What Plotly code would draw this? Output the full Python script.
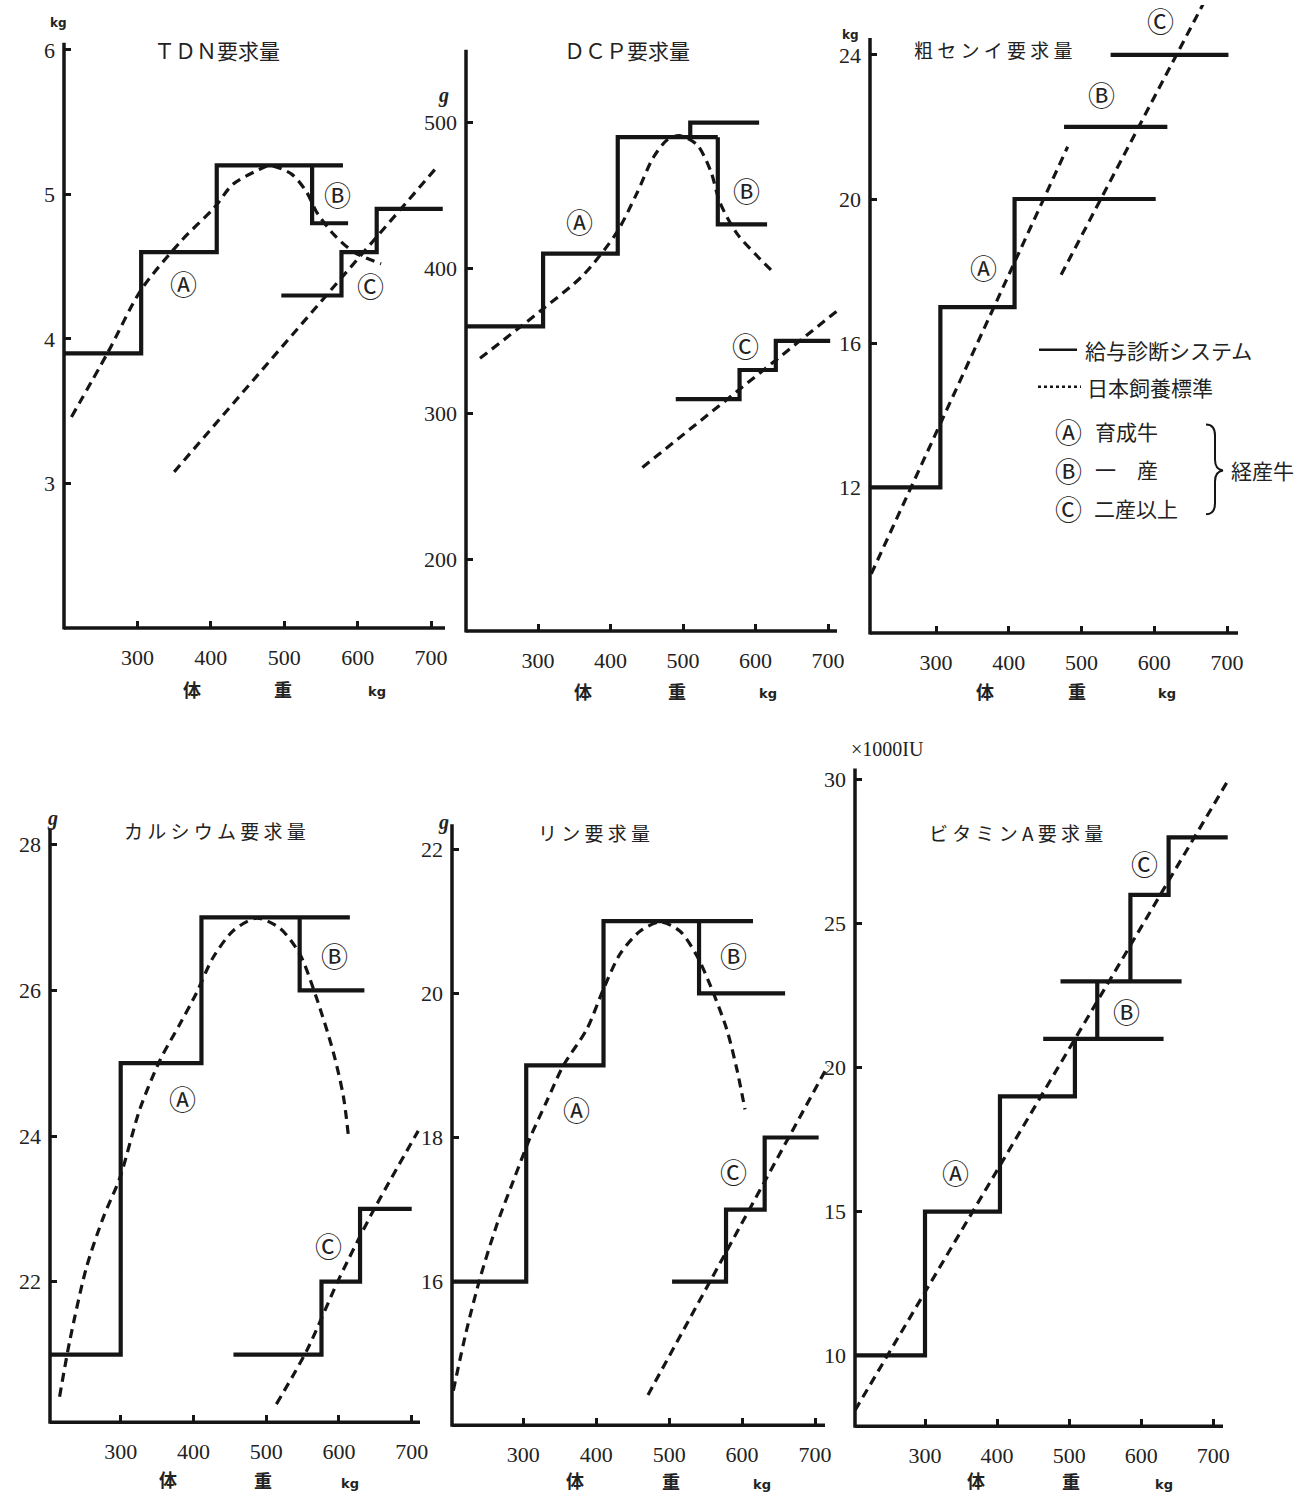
import plotly.graph_objects as go

W, H = 1310, 1496

# ---------------- data ----------------
weight_ticks = [300, 400, 500, 600, 700]

# TDN (kg)
tdn_yticks = [3, 4, 5, 6]
tdn_A_x = [200, 305, 408, 580]
tdn_A_y = [3.9, 4.6, 5.2, 5.2]
tdn_B_x = [538, 538, 587]
tdn_B_y = [5.2, 4.8, 4.8]
tdn_C_x = [496, 578, 626, 716]
tdn_C_y = [4.3, 4.6, 4.9, 4.9]
tdn_stdAB_x = [210, 260, 305, 360, 405, 430, 465, 480, 510, 530, 545, 568, 595, 632]
tdn_stdAB_y = [3.46, 3.91, 4.34, 4.68, 4.91, 5.07, 5.17, 5.2, 5.14, 5.02, 4.87, 4.72, 4.6, 4.52]
tdn_stdC_x = [350, 710]
tdn_stdC_y = [3.08, 5.2]

# DCP (g)
dcp_yticks = [200, 300, 400, 500]
dcp_A_x = [200, 307, 410, 548]
dcp_A_y = [360, 410, 490, 490]
dcp_B1_x = [510, 510, 605]
dcp_B1_y = [490, 500, 500]
dcp_B2_x = [548, 548, 616]
dcp_B2_y = [490, 430, 430]
dcp_C_x = [490, 578, 628, 703]
dcp_C_y = [310, 330, 350, 350]
dcp_stdAB_x = [220, 307, 362, 408, 436, 459, 478, 495, 519, 538, 551, 574, 602, 627]
dcp_stdAB_y = [338, 372, 395, 424, 451, 476, 488, 491, 485, 467, 445, 424, 408.5, 396]
dcp_stdC_x = [444, 716]
dcp_stdC_y = [263, 372]

# 粗センイ (kg)
fib_yticks = [12, 16, 20, 24]
fib_A_x = [205, 306, 408, 602]
fib_A_y = [12, 17, 20, 20]
fib_B_x = [476, 618]
fib_B_y = [22, 22]
fib_C_x = [540, 702]
fib_C_y = [24, 24]
fib_stdA_x = [211, 481]
fib_stdA_y = [9.6, 21.45]
fib_stdC_x = [472, 667]
fib_stdC_y = [17.9, 25.4]

# カルシウム (g)
ca_yticks = [22, 24, 26, 28]
ca_A_x = [200, 300, 411, 615]
ca_A_y = [21, 25, 27, 27]
ca_B_x = [546, 546, 635]
ca_B_y = [27, 26, 26]
ca_C_x = [455, 576, 629, 700]
ca_C_y = [21, 22, 23, 23]
ca_stdAB_x = [216, 230, 253, 276, 299, 326, 354, 381, 404, 427, 455, 487, 519, 546, 569, 592, 606, 613]
ca_stdAB_y = [20.42, 21.19, 22.2, 22.88, 23.43, 24.36, 25.04, 25.53, 25.96, 26.45, 26.82, 26.99,
              26.85, 26.5, 25.9, 25.16, 24.55, 24.0]
ca_stdC_x = [514, 556, 601, 647, 709]
ca_stdC_y = [20.32, 21.06, 22.06, 22.97, 24.07]

# リン (g)
p_yticks = [16, 18, 20, 22]
p_A_x = [200, 304, 410, 615]
p_A_y = [16, 19, 21, 21]
p_B_x = [541, 541, 659]
p_B_y = [21, 20, 20]
p_C_x = [504, 578, 631, 705]
p_C_y = [16, 17, 18, 18]
p_stdAB_x = [204, 222, 241, 264, 286, 309, 332, 355, 387, 410, 433, 460, 488, 515, 538, 556, 579, 593, 604]
p_stdAB_y = [14.49, 15.32, 16.06, 16.8, 17.39, 17.99, 18.5, 19.0, 19.5, 20.06, 20.55, 20.86, 20.99,
             20.86, 20.52, 20.12, 19.5, 18.94, 18.39]
p_stdC_x = [471, 718]
p_stdC_y = [14.43, 19.0]

# ビタミンA (x1000 IU)
va_yticks = [10, 15, 20, 25, 30]
va_A_x = [200, 300, 404, 508, 508]
va_A_y = [10, 15, 19, 21, 21]
va_B1_x = [464, 631]
va_B1_y = [21, 21]
va_B2_x = [539, 539]
va_B2_y = [21, 23]
va_B3_x = [488, 656]
va_B3_y = [23, 23]
va_C_x = [585, 585, 638, 720]
va_C_y = [23, 26, 28, 28]
va_std_x = [203, 721]
va_std_y = [8.1, 30.0]

panel_titles = ["ＴＤＮ要求量", "ＤＣＰ要求量", "粗 セ ン イ 要 求 量",
                "カ ル シ ウ ム 要 求 量", "リ ン 要 求 量", "ビ タ ミ ン A 要 求 量"]
panel_units = ["kg", "g", "kg", "g", "g", "×1000IU"]

panels = [
    dict(yticks=tdn_yticks,
         solid=[(tdn_A_x, tdn_A_y), (tdn_B_x, tdn_B_y), (tdn_C_x, tdn_C_y)],
         dashed=[(tdn_stdAB_x, tdn_stdAB_y), (tdn_stdC_x, tdn_stdC_y)],
         labels=[("Ⓐ", 363, 4.38), ("Ⓑ", 572, 5.0), ("Ⓒ", 618, 4.37)]),
    dict(yticks=dcp_yticks,
         solid=[(dcp_A_x, dcp_A_y), (dcp_B1_x, dcp_B1_y), (dcp_B2_x, dcp_B2_y), (dcp_C_x, dcp_C_y)],
         dashed=[(dcp_stdAB_x, dcp_stdAB_y), (dcp_stdC_x, dcp_stdC_y)],
         labels=[("Ⓐ", 357, 432), ("Ⓑ", 587, 453), ("Ⓒ", 586, 347)]),
    dict(yticks=fib_yticks,
         solid=[(fib_A_x, fib_A_y), (fib_B_x, fib_B_y), (fib_C_x, fib_C_y)],
         dashed=[(fib_stdA_x, fib_stdA_y), (fib_stdC_x, fib_stdC_y)],
         labels=[("Ⓐ", 365, 18.1), ("Ⓑ", 527, 22.9), ("Ⓒ", 608, 24.95)]),
    dict(yticks=ca_yticks,
         solid=[(ca_A_x, ca_A_y), (ca_B_x, ca_B_y), (ca_C_x, ca_C_y)],
         dashed=[(ca_stdAB_x, ca_stdAB_y), (ca_stdC_x, ca_stdC_y)],
         labels=[("Ⓐ", 385, 24.52), ("Ⓑ", 594, 26.48), ("Ⓒ", 585, 22.5)]),
    dict(yticks=p_yticks,
         solid=[(p_A_x, p_A_y), (p_B_x, p_B_y), (p_C_x, p_C_y)],
         dashed=[(p_stdAB_x, p_stdAB_y), (p_stdC_x, p_stdC_y)],
         labels=[("Ⓐ", 373, 18.39), ("Ⓑ", 588, 20.52), ("Ⓒ", 588, 17.53)]),
    dict(yticks=va_yticks,
         solid=[(va_A_x, va_A_y), (va_B1_x, va_B1_y), (va_B2_x, va_B2_y), (va_B3_x, va_B3_y), (va_C_x, va_C_y)],
         dashed=[(va_std_x, va_std_y)],
         labels=[("Ⓐ", 343, 16.35), ("Ⓑ", 580, 21.95), ("Ⓒ", 604, 27.1)]),
]

# ---------------- geometry (pixel layout of each panel) ----------------
geom = [
    dict(xcal=((300, 137.5), (700, 431)), ycal=((6, 45), (3, 480)), box=(64, 452, 38, 625),
         axis_right=445, axis_top=38, title=(217, 45), unit=(58, 18),
         xt=[(192, 686), (283, 686), (377, 689)]),
    dict(xcal=((300, 538), (700, 828)), ycal=((500, 118), (200, 556)), box=(466, 848, 45, 628),
         axis_right=837, axis_top=45, title=(627, 45), unit=(444, 91),
         xt=[(583, 688), (677, 688), (768, 691)]),
    dict(xcal=((300, 936), (700, 1227)), ycal=((24, 50), (12, 484)), box=(870, 1250, 0, 630),
         axis_right=1238, axis_top=33, title=(994, 45), unit=(850, 30),
         xt=[(985, 688), (1077, 688), (1167, 691)]),
    dict(xcal=((300, 120.7), (700, 411.7)), ycal=((28, 842.4), (22, 1281)), box=(50, 430, 780, 1422),
         axis_right=420, axis_top=826, title=(215, 828), unit=(52, 816),
         xt=[(168, 1479), (263, 1480), (350, 1483)]),
    dict(xcal=((300, 523.3), (700, 815)), ycal=((22, 846.9), (16, 1281)), box=(452, 835, 780, 1425),
         axis_right=825, axis_top=822, title=(594, 830), unit=(444, 820),
         xt=[(575, 1480), (671, 1481), (762, 1484)]),
    dict(xcal=((300, 925), (700, 1213.3)), ycal=((30, 777.4), (10, 1355)), box=(855, 1240, 740, 1426),
         axis_right=1223, axis_top=766, title=(1016, 830), unit=(888, 746),
         xt=[(976, 1480), (1071, 1481), (1164, 1484)]),
]

INK = "#151515"
SERIF = "Liberation Serif"
JP = "Noto Sans CJK JP"


def lin(cal, p):
    (v0, p0), (v1, p1) = cal
    return v0 + (p - p0) * (v1 - v0) / (p1 - p0)


def px(x):
    return x / W


def py(y):
    return 1 - y / H


fig = go.Figure()
layout = dict(width=W, height=H, margin=dict(l=0, r=0, t=0, b=0), autosize=False,
              paper_bgcolor="white", plot_bgcolor="rgba(0,0,0,0)", showlegend=False)
shapes = []
annotations = []

for i, (pnl, g) in enumerate(zip(panels, geom)):
    s = "" if i == 0 else str(i + 1)
    left, right, top, bottom = g["box"]
    xr = [lin(g["xcal"], left), lin(g["xcal"], right)]
    yr = [lin(g["ycal"], bottom), lin(g["ycal"], top)]
    common = dict(ticks="inside", ticklen=7, tickwidth=3, tickcolor=INK, showline=False,
                  showgrid=False, zeroline=False, fixedrange=True,
                  tickfont=dict(family=SERIF, size=22, color="#222"))
    layout["xaxis" + s] = dict(domain=[px(left), px(right)], range=xr, anchor="y" + s,
                               tickvals=weight_ticks, ticklabelstandoff=14, **common)
    layout["yaxis" + s] = dict(domain=[py(bottom), py(top)], range=yr, anchor="x" + s,
                               tickvals=pnl["yticks"], ticklabelstandoff=8, **common)

    for xs, ys in pnl["dashed"]:
        fig.add_trace(go.Scatter(x=xs, y=ys, mode="lines", xaxis="x" + s, yaxis="y" + s,
                                 line=dict(color=INK, width=3.2, dash="9px,6px",
                                           shape="spline" if len(xs) > 2 else "linear",
                                           smoothing=0.8),
                                 hoverinfo="skip"))
    for xs, ys in pnl["solid"]:
        fig.add_trace(go.Scatter(x=xs, y=ys, mode="lines", xaxis="x" + s, yaxis="y" + s,
                                 line=dict(color=INK, width=4.2, shape="hv"),
                                 hoverinfo="skip"))
    for txt, lx, ly in pnl["labels"]:
        annotations.append(dict(x=lx, y=ly, xref="x" + s, yref="y" + s, text=txt, showarrow=False,
                                font=dict(family=JP, size=27, color="#222")))

    # axis lines
    shapes.append(dict(type="line", xref="paper", yref="paper",
                       x0=px(left), x1=px(left), y0=py(bottom + 1.5), y1=py(g["axis_top"]),
                       line=dict(color=INK, width=3.5)))
    shapes.append(dict(type="line", xref="paper", yref="paper",
                       x0=px(left), x1=px(g["axis_right"]), y0=py(bottom), y1=py(bottom),
                       line=dict(color=INK, width=3.5)))

    # title
    tx, ty = g["title"]
    tsize = 21 if i < 2 else 19
    annotations.append(dict(x=px(tx), y=py(ty), xref="paper", yref="paper", text=panel_titles[i],
                            showarrow=False, xanchor="center", yanchor="middle",
                            font=dict(family=JP, size=tsize, color="#222")))
    # unit
    ux, uy = g["unit"]
    unit_font = dict(family=SERIF, size=20, color="#222") if panel_units[i] != "kg" else \
        dict(family="DejaVu Sans", size=12, color="#222", weight="bold")
    if panel_units[i] == "g":
        unit_txt = "<i><b>g</b></i>"
    else:
        unit_txt = panel_units[i]
    annotations.append(dict(x=px(ux), y=py(uy), xref="paper", yref="paper", text=unit_txt,
                            showarrow=False, xanchor="center", yanchor="middle", font=unit_font))
    # x axis title 体 重 kg
    for (ax_, ay_), t in zip(g["xt"], ["体", "重", "kg"]):
        f = dict(family=JP, size=18, color="#222", weight="bold") if t != "kg" else \
            dict(family="DejaVu Sans", size=13, color="#222", weight="bold")
        annotations.append(dict(x=px(ax_), y=py(ay_), xref="paper", yref="paper", text=t,
                                showarrow=False, xanchor="center", yanchor="middle", font=f))

# ---------------- legend (in the 粗センイ panel) ----------------
shapes.append(dict(type="line", xref="paper", yref="paper", x0=px(1039), x1=px(1077),
                   y0=py(346), y1=py(346), line=dict(color=INK, width=2.5)))
shapes.append(dict(type="line", xref="paper", yref="paper", x0=px(1038), x1=px(1081),
                   y0=py(383), y1=py(383), line=dict(color=INK, width=2.5, dash="dot")))
leg_font = dict(family=JP, size=21, color="#222")
for txt, lx, ly in [("給与診断システム", 1083, 346), ("日本飼養標準", 1085, 383),
                    ("育成牛", 1093, 427), ("一　産", 1093, 466), ("二産以上", 1092, 505),
                    ("経産牛", 1229, 467)]:
    annotations.append(dict(x=px(lx), y=py(ly), xref="paper", yref="paper", text=txt,
                            showarrow=False, xanchor="left", yanchor="middle", font=leg_font))
for txt, ly in [("Ⓐ", 428), ("Ⓑ", 467), ("Ⓒ", 505)]:
    annotations.append(dict(x=px(1068), y=py(ly), xref="paper", yref="paper", text=txt,
                            showarrow=False, xanchor="center", yanchor="middle",
                            font=dict(family=JP, size=27, color="#222")))


def P(x, y):
    return f"{px(x):.5f},{py(y):.5f}"


brace = (f"M {P(1206, 421)} Q {P(1215, 421)} {P(1215, 432)} L {P(1215, 456)} "
         f"Q {P(1215, 466)} {P(1223, 467)} Q {P(1215, 468)} {P(1215, 478)} "
         f"L {P(1215, 500)} Q {P(1215, 511)} {P(1206, 511)}")
shapes.append(dict(type="path", xref="paper", yref="paper", path=brace,
                   line=dict(color=INK, width=2)))

layout["shapes"] = shapes
layout["annotations"] = annotations
fig.update_layout(**layout)
fig.write_html("out.html", config={"displayModeBar": False, "staticPlot": True},
               post_script="document.body.style.margin='0';document.body.style.overflow='hidden';")
